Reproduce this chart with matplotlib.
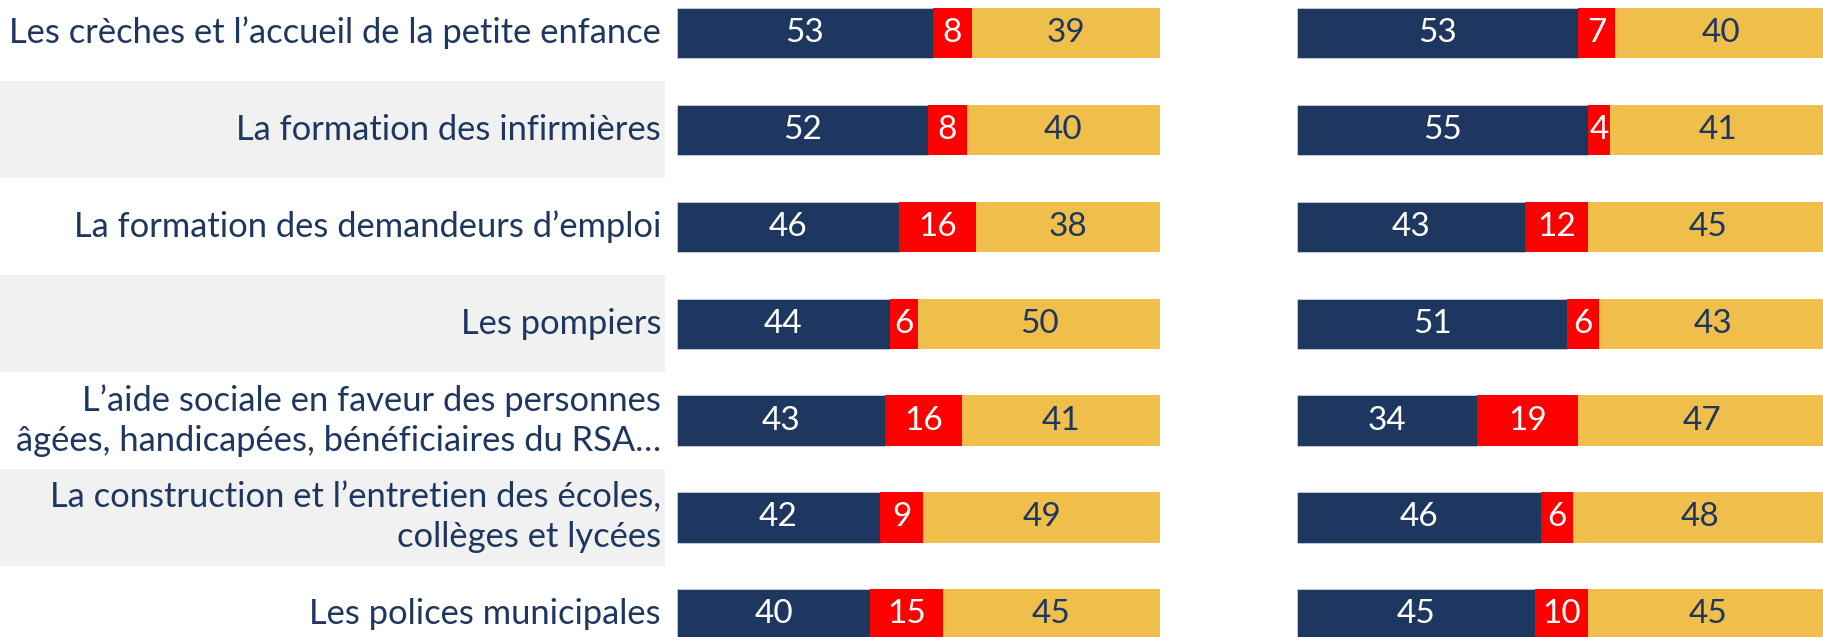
import matplotlib.pyplot as plt

plt.rcParams['font.family'] = ['Lato', 'DejaVu Sans']

# Data
labels = [
    "Les crèches et l’accueil de la petite enfance",
    "La formation des infirmières",
    "La formation des demandeurs d’emploi",
    "Les pompiers",
    "L’aide sociale en faveur des personnes\nâgées, handicapées, bénéficiaires du RSA…",
    "La construction et l’entretien des écoles,\ncollèges et lycées",
    "Les polices municipales",
]
left_pos = [53, 52, 46, 44, 43, 42, 40]
left_mid = [8, 8, 16, 6, 16, 9, 15]
left_neg = [39, 40, 38, 50, 41, 49, 45]
right_pos = [53, 55, 43, 51, 34, 46, 45]
right_mid = [7, 4, 12, 6, 19, 6, 10]
right_neg = [40, 41, 45, 43, 47, 48, 45]

NAVY = '#1E3760'
RED = '#FF0000'
GOLD = '#F0BE4A'
BAND = '#F1F1F1'

W, H = 1824, 637
fig = plt.figure(figsize=(W / 100, H / 100), dpi=100)

n = len(labels)
row0, step = 33, 96.9
ylim = ((H - row0) / step, -row0 / step)
rows = list(range(n))


def px_axes(x0, x1):
    return fig.add_axes([x0 / W, 0, (x1 - x0) / W, 1])


# label area with grey bands
lab = px_axes(0, 665)
lab.set_xlim(0, 1)
lab.set_ylim(*ylim)
lab.axis('off')
for i in rows:
    if i % 2 == 1:
        lab.axhspan(i - 0.5, i + 0.5, color=BAND, lw=0)
    lab.text(0.994, i, labels[i], ha='right', va='center', fontsize=24.8,
             color=NAVY, linespacing=1.3)


def draw_bars(ax, pos, mid, neg):
    ax.set_ylim(*ylim)
    ax.axis('off')
    h = 0.52
    ax.barh(rows, pos, height=h, color=NAVY, edgecolor='#C9CFDA', lw=0.6)
    ax.barh(rows, mid, left=pos, height=h, color=RED, lw=0)
    starts = [p + m for p, m in zip(pos, mid)]
    ax.barh(rows, neg, left=starts, height=h, color=GOLD, lw=0)
    for i in rows:
        ax.text(pos[i] / 2, i, str(pos[i]), ha='center', va='center',
                fontsize=24, color='white')
        ax.text(pos[i] + mid[i] / 2, i, str(mid[i]), ha='center',
                va='center', fontsize=24, color='white')
        ax.text(starts[i] + neg[i] / 2, i, str(neg[i]), ha='center',
                va='center', fontsize=24, color=NAVY)


axl = px_axes(677, 1160)
axl.set_xlim(0, 100)
draw_bars(axl, left_pos, left_mid, left_neg)

axr = px_axes(1297, W)
axr.set_xlim(0, (W - 1297) / 5.3)
draw_bars(axr, right_pos, right_mid, right_neg)

fig.savefig('out.png', dpi=100)
